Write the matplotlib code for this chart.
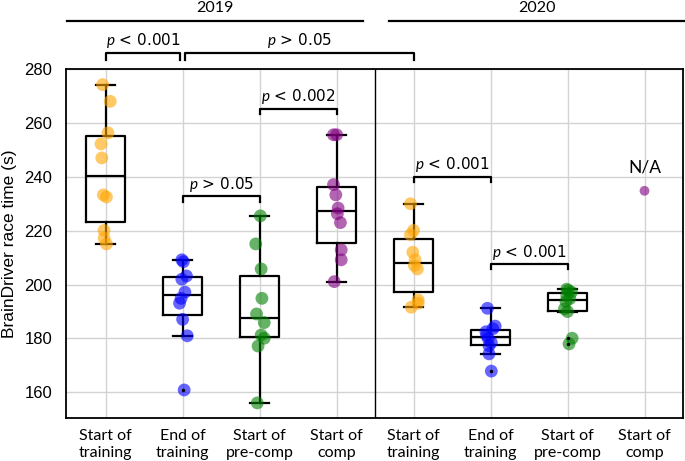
import numpy as np
import matplotlib
matplotlib.use("Agg")
import matplotlib.pyplot as plt

plt.rcParams['mathtext.fontset'] = 'custom'
plt.rcParams['mathtext.it'] = 'Lato:italic'
plt.rcParams['mathtext.rm'] = 'Lato'

# race times (s) per group
start_train_19 = [274.2, 268.0, 256.3, 252.2, 247.0, 233.3, 232.5, 220.1, 217.2, 215.1]
end_train_19 = [209.2, 208.5, 203.2, 202.0, 197.2, 194.9, 193.1, 187.1, 181.0, 160.9]
start_pre_19 = [225.5, 215.1, 205.8, 194.9, 189.1, 185.9, 181.3, 180.1, 177.2, 156.1]
start_comp_19 = [255.6, 255.6, 237.1, 233.3, 228.4, 226.3, 223.0, 212.9, 209.2, 201.1]
start_train_20 = [230.0, 220.1, 218.5, 212.0, 209.2, 207.1, 205.8, 194.3, 193.1, 191.6]
end_train_20 = [191.2, 184.6, 183.6, 182.5, 181.2, 180.0, 178.5, 177.3, 174.3, 167.9]
start_pre_20 = [198.3, 197.8, 197.2, 196.0, 194.8, 193.8, 191.0, 190.0, 180.1, 178.0]
start_comp_20 = [234.8]

# horizontal jitter of the dots (data units)
jit_a = [-0.04, 0.06, 0.03, -0.06, -0.05, -0.03, 0.01, -0.02, -0.02, 0.01]
jit_b = [-0.01, 0.01, 0.05, -0.01, 0.03, -0.02, -0.04, 0.0, 0.06, 0.02]
jit_c = [0.01, -0.05, 0.02, 0.03, -0.04, 0.06, 0.02, 0.06, -0.02, -0.03]
jit_d = [-0.04, 0.0, -0.04, -0.01, 0.02, 0.01, 0.05, 0.06, 0.06, -0.03]

groups = [start_train_19, end_train_19, start_pre_19, start_comp_19,
          start_train_20, end_train_20, start_pre_20, start_comp_20]
jitters = [jit_a, jit_b, jit_c, jit_d, jit_d, jit_a, jit_b, [0.0]]
colors = ['orange', 'blue', 'green', 'purple',
          'orange', 'blue', 'green', 'purple']
labels = ['Start of\ntraining', 'End of\ntraining', 'Start of\npre-comp', 'Start of\ncomp',
          'Start of\ntraining', 'End of\ntraining', 'Start of\npre-comp', 'Start of\ncomp']

fig = plt.figure(figsize=(6.85, 4.61), dpi=100)
ax = fig.add_axes([66 / 685, 43 / 461, 617 / 685, 349 / 461])

pos = np.arange(len(groups))
ax.boxplot(groups[:7], positions=pos[:7], widths=0.5, whis=1.5,
           boxprops=dict(color='black', linewidth=1.6),
           medianprops=dict(color='black', linewidth=1.6),
           whiskerprops=dict(color='black', linewidth=1.6),
           capprops=dict(color='black', linewidth=1.6),
           flierprops=dict(marker='.', markerfacecolor='black', markeredgecolor='black',
                           markersize=3, zorder=5),
           zorder=3)

for i, (vals, jit, col) in enumerate(zip(groups, jitters, colors)):
    xs = i + np.array(jit)
    s = 50 if i == 7 else 85
    ax.scatter(xs, vals, s=s, color=col, alpha=0.6, edgecolors='none', zorder=4)

ax.set_xlim(-0.515, 7.5)
ax.set_ylim(150.5, 280)
ax.set_yticks([160, 180, 200, 220, 240, 260, 280])
ax.set_xticks(pos)
ax.set_xticklabels(labels, fontsize=11.5, family='Lato', linespacing=1.25)
for t in ax.get_yticklabels():
    t.set_family('Liberation Sans')
    t.set_fontsize(12)
ax.tick_params(axis='both', length=0)
ax.tick_params(axis='y', pad=10)
ax.tick_params(axis='x', pad=8)
ax.grid(True, color='#d3d3d3', linewidth=1)
ax.set_axisbelow(True)
for sp in ax.spines.values():
    sp.set_linewidth(1.3)
ax.axvline(3.5, color='black', linewidth=1)
ax.set_ylabel('BrainDriver race time (s)', family='Liberation Sans', fontsize=12.5, labelpad=5)

ax.text(7, 240.5, 'N/A', ha='center', va='bottom', fontsize=12.5, family='Lato')

# brackets inside axes
def bracket(x1, x2, y, txt, drop=2.0):
    ax.plot([x1, x1, x2, x2], [y - drop, y, y, y - drop], color='black', lw=1.6, zorder=5,
            clip_on=False)
    ax.text((x1 + x2) / 2, y + 0.8, txt, ha='center', va='bottom', fontsize=11)

bracket(1, 2, 232.7, r'$p$ > 0.05')
bracket(2, 3, 265.3, r'$p$ < 0.002')
bracket(4, 5, 240.1, r'$p$ < 0.001')
bracket(5, 6, 207.7, r'$p$ < 0.001')

# brackets and year lines above the axes (figure pixel coords)
def fig_line(xs, ys):
    fig.add_artist(plt.Line2D(np.array(xs) / 685, 1 - np.array(ys) / 461,
                              color='black', lw=1.6))

def data_x(v):
    return 105.7 + 77.0 * v

fig_line([data_x(0), data_x(0), data_x(0.97), data_x(0.97)], [60, 53, 53, 60])
fig_line([data_x(1.03), data_x(1.03), data_x(4), data_x(4)], [60, 53, 53, 60])
fig.text(data_x(0.485) / 685, 1 - 50 / 461, r'$p$ < 0.001', ha='center', va='bottom', fontsize=11)
fig.text(data_x(2.515) / 685, 1 - 50 / 461, r'$p$ > 0.05', ha='center', va='bottom', fontsize=11)

fig_line([67, 363], [21, 21])
fig_line([389, 685], [21, 21])
fig.text(215 / 685, 1 - 8 / 461, '2019', ha='center', va='center', fontsize=11.5, family='Lato')
fig.text(537 / 685, 1 - 8 / 461, '2020', ha='center', va='center', fontsize=11.5, family='Lato')

fig.savefig('out.png', dpi=100)
